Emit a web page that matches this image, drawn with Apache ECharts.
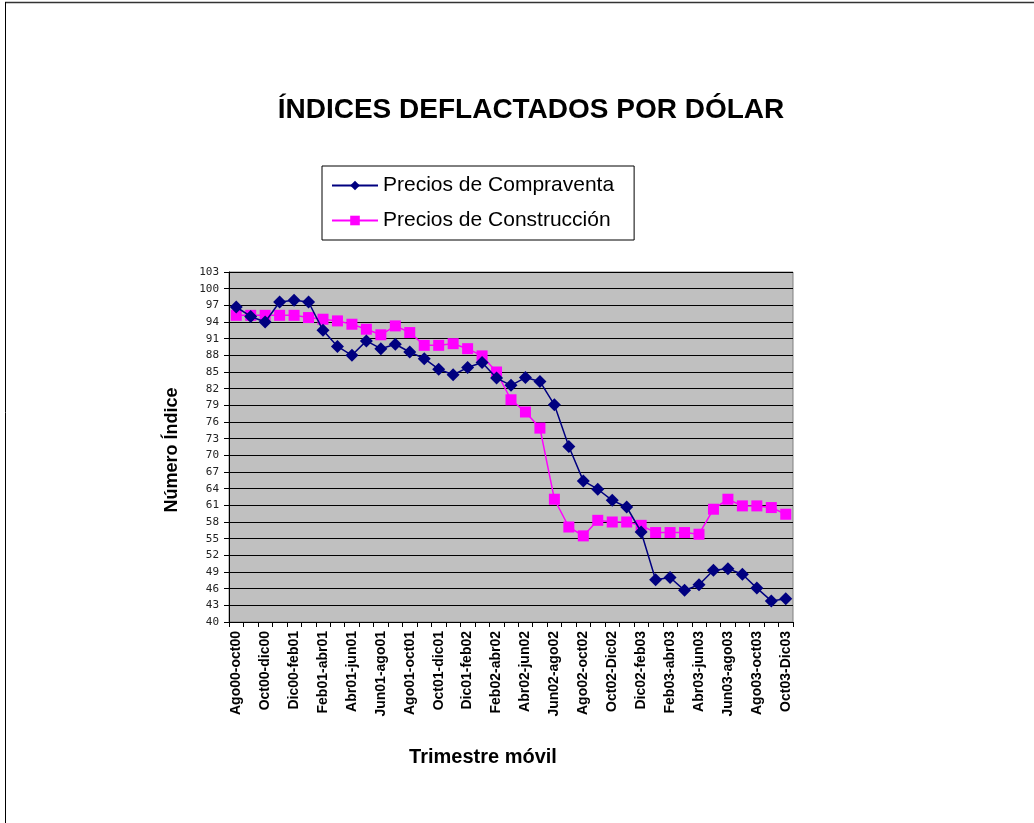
<!DOCTYPE html>
<html>
<head>
<meta charset="utf-8">
<script src="https://cdn.jsdelivr.net/npm/echarts@6/dist/echarts.min.js"></script>
<style>
html,body{margin:0;padding:0;background:#fff;}
#c{width:1034px;height:823px;}
</style>
</head>
<body>
<div id="c"></div>
<script>
const categories = ["Ago00-oct00","Sep00-nov00","Oct00-dic00","Nov00-ene01","Dic00-feb01","Ene01-mar01","Feb01-abr01","Mar01-may01","Abr01-jun01","May01-jul01","Jun01-ago01","Jul01-sep01","Ago01-oct01","Sep01-nov01","Oct01-dic01","Nov01-ene02","Dic01-feb02","Ene02-mar02","Feb02-abr02","Mar02-may02","Abr02-jun02","May02-jul02","Jun02-ago02","Jul02-sep02","Ago02-oct02","Sep02-nov02","Oct02-Dic02","Nov02-ene03","Dic02-feb03","Ene03-mar03","Feb03-abr03","Mar03-may03","Abr03-jun03","May03-jul03","Jun03-ago03","Jul03-sep03","Ago03-oct03","Sep03-nov03","Oct03-Dic03"];
const compraventa = [96.7,95.0,94.0,97.6,97.9,97.6,92.5,89.6,88.0,90.6,89.2,90.0,88.6,87.4,85.5,84.5,85.8,86.7,83.9,82.6,84.0,83.3,79.1,71.6,65.4,63.9,61.9,60.7,56.2,47.6,48.0,45.7,46.7,49.3,49.6,48.6,46.1,43.8,44.2];
const construccion = [95.2,95.2,95.2,95.2,95.2,94.8,94.5,94.2,93.6,92.7,91.7,93.3,92.1,89.8,89.8,90.1,89.2,87.9,85.0,80.0,77.8,74.9,62.1,57.1,55.5,58.3,58.0,58.0,57.4,56.1,56.1,56.1,55.8,60.3,62.1,60.9,60.9,60.6,59.4];
const seriesNames = ["Precios de Compraventa","Precios de Construcción"];
const yMin = 40, yMax = 103, yStep = 3;
const titleText = "ÍNDICES DEFLACTADOS POR DÓLAR";
const yTitle = "Número Índice";
const xTitle = "Trimestre móvil";

const chart = echarts.init(document.getElementById('c'), null, {renderer:'canvas'});
chart.setOption({
  animation:false,
  backgroundColor:'#ffffff',
  textStyle:{fontFamily:'Liberation Sans, Arial, sans-serif'},
  grid:{left:229,top:272,right:241,bottom:201,show:true,backgroundColor:'#C0C0C0',borderColor:'#808080',borderWidth:1},
  legend:{
    orient:'vertical',left:322,top:166,
    itemWidth:46,itemHeight:12,itemGap:14,
    padding:[9,20,9,9],
    borderColor:'#000',borderWidth:1,backgroundColor:'#fff',
    textStyle:{fontSize:21,color:'#000',fontFamily:'Liberation Sans, Arial, sans-serif'},
    data:seriesNames
  },
  graphic:[
    {type:'line',shape:{x1:5,y1:2.5,x2:1034,y2:2.5},style:{stroke:'#333',lineWidth:1.5},silent:true},
    {type:'line',shape:{x1:5.5,y1:2,x2:5.5,y2:823},style:{stroke:'#000',lineWidth:1},silent:true},
    {type:'text',style:{text:titleText,x:531,y:110,align:'center',verticalAlign:'middle',font:'bold 28px "Liberation Sans", Arial, sans-serif',fill:'#000'}},
    {type:'text',style:{text:yTitle,align:'center',verticalAlign:'middle',font:'bold 18px "Liberation Sans", Arial, sans-serif',fill:'#000'},x:172,y:450,rotation:Math.PI/2},
    {type:'text',style:{text:xTitle,x:483,y:757,align:'center',verticalAlign:'middle',font:'bold 20px "Liberation Sans", Arial, sans-serif',fill:'#000'}}
  ],
  xAxis:{
    type:'category',data:categories,boundaryGap:true,
    axisLine:{lineStyle:{color:'#000',width:1}},
    axisTick:{show:true,interval:0,length:5,lineStyle:{color:'#000'}},
    axisLabel:{interval:1,rotate:90,fontSize:14,fontWeight:'bold',color:'#000',margin:9,fontFamily:'Liberation Sans, Arial, sans-serif'},
    splitLine:{show:false}
  },
  yAxis:{
    type:'value',min:yMin,max:yMax,interval:yStep,
    axisLine:{show:true,lineStyle:{color:'#000',width:1}},
    axisTick:{show:true,length:5,lineStyle:{color:'#000'}},
    axisLabel:{fontSize:11,color:'#222',margin:10,fontFamily:'DejaVu Sans Mono, monospace'},
    splitLine:{show:true,lineStyle:{color:'#000',width:1}}
  },
  series:[
    {name:seriesNames[0],type:'line',data:compraventa,symbol:'diamond',symbolSize:13,showAllSymbol:true,
     lineStyle:{color:'#000080',width:1.5},itemStyle:{color:'#000080'},z:3},
    {name:seriesNames[1],type:'line',data:construccion,symbol:'rect',symbolSize:11,showAllSymbol:true,
     lineStyle:{color:'#FF00FF',width:1.5},itemStyle:{color:'#FF00FF'},z:2}
  ]
});
</script>
</body>
</html>
